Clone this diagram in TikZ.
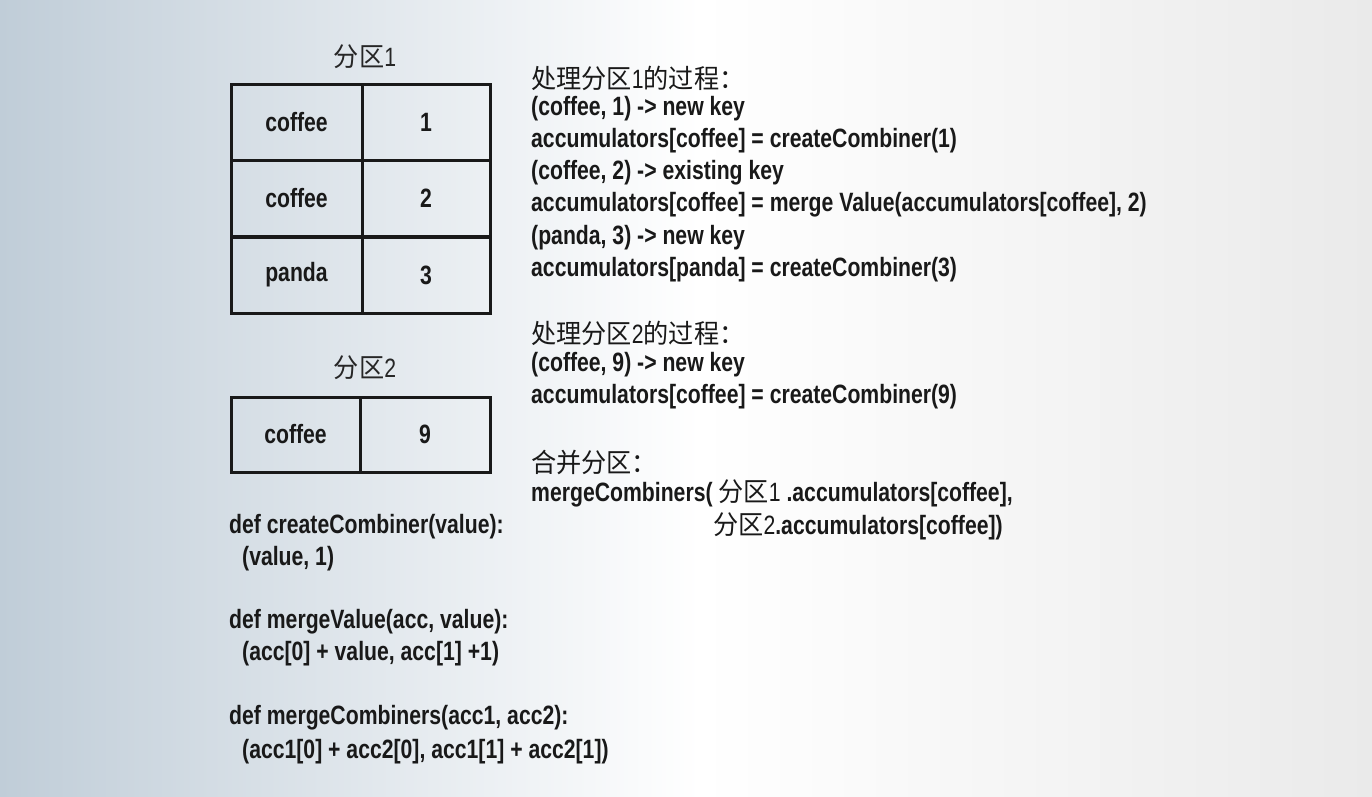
\documentclass[tikz,border=0pt]{standalone}
\usepackage{fontspec}
\setmainfont[FakeStretch=0.80]{Liberation Sans}
\newfontfamily\cjk[FakeStretch=0.95]{Noto Sans CJK SC}
\begin{document}
\begin{tikzpicture}[x=1pt,y=-1pt,
  txt/.style={anchor=west,inner sep=0pt,font=\fontsize{26.5}{28}\selectfont\bfseries,text=black!90},
  lbl/.style={inner sep=0pt,font=\fontsize{26.5}{28}\selectfont,text=black!85},
  cell/.style={draw=black!90,line width=3pt,minimum height=76pt,inner sep=0pt,outer sep=0pt,font=\fontsize{26.5}{28}\selectfont\bfseries,text=black!90}]
\useasboundingbox (0,0) rectangle (1372,796);
\shade[left color={rgb,255:red,192;green,205;blue,216}, right color=white] (0,0) rectangle (700,796);
\shade[left color=white, right color={rgb,255:red,234;green,234;blue,234}] (700,0) rectangle (1372,796);
% Partition 1
\node[lbl] (p1) at (365,57) {{\cjk 分区}1};
\node[cell,minimum width=131pt] (a1) at (296.5,122) {coffee};
\node[cell,minimum width=128pt] (b1) at (426,122) {1};
\node[cell,minimum width=131pt] (a2) at (296.5,198.5) {coffee};
\node[cell,minimum width=128pt] (b2) at (426,198.5) {2};
\node[cell,minimum width=131pt] (a3) at (296.5,275) {panda};
\node[cell,minimum width=128pt] (b3) at (426,275) {3};
% Partition 2
\node[lbl] (p2) at (365,368) {{\cjk 分区}2};
\node[cell,minimum width=129pt,minimum height=75pt] (c1) at (295.5,434.5) {coffee};
\node[cell,minimum width=130pt,minimum height=75pt] (d1) at (425,434.5) {9};
% right column
\node[txt] (r1) at (531,78) {\mdseries{\cjk 处理分区}1{\cjk 的过程：}};
\node[txt] (r2) at (531,109) {(coffee, 1) -> new key};
\node[txt] (r3) at (531,141) {accumulators[coffee] = createCombiner(1)};
\node[txt] (r4) at (531,173) {(coffee, 2) -> existing key};
\node[txt] (r5) at (531,205) {accumulators[coffee] = merge Value(accumulators[coffee], 2)};
\node[txt] (r6) at (531,238) {(panda, 3) -> new key};
\node[txt] (r7) at (531,270) {accumulators[panda] = createCombiner(3)};
\node[txt] (s1) at (531,333) {\mdseries{\cjk 处理分区}2{\cjk 的过程：}};
\node[txt] (s2) at (531,365) {(coffee, 9) -> new key};
\node[txt] (s3) at (531,397) {accumulators[coffee] = createCombiner(9)};
\node[txt] (m1) at (531,462) {\mdseries{\cjk 合并分区：}};
\node[txt] (m2) at (531,493) {mergeCombiners( {\mdseries\cjk 分区}{\mdseries 1} .accumulators[coffee],};
\node[txt] (m3) at (713,526) {{\mdseries\cjk 分区}{\mdseries 2}.accumulators[coffee])};
% definitions
\node[txt] (d1a) at (229,527) {def createCombiner(value):};
\node[txt] (d1b) at (242,559) {(value, 1)};
\node[txt] (d2a) at (229,622) {def mergeValue(acc, value):};
\node[txt] (d2b) at (242,654) {(acc[0] + value, acc[1] +1)};
\node[txt] (d3a) at (229,718) {def mergeCombiners(acc1, acc2):};
\node[txt] (d3b) at (242,752) {(acc1[0] + acc2[0], acc1[1] + acc2[1])};
\end{tikzpicture}
\end{document}
